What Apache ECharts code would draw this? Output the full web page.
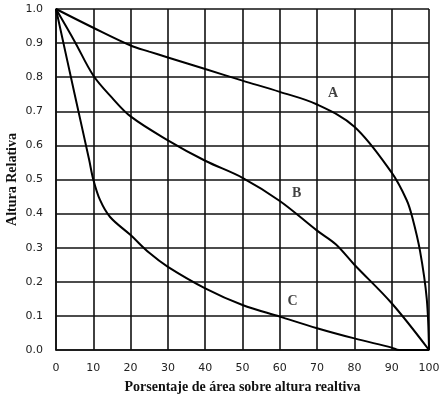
<!DOCTYPE html>
<html>
<head>
<meta charset="utf-8">
<script src="https://cdn.jsdelivr.net/npm/echarts@6/dist/echarts.min.js"></script>
<style>
html, body { margin: 0; padding: 0; background: #fff; }
#chart { width: 439px; height: 398px; }
</style>
</head>
<body>
<div id="chart"></div>
<script>
// curves: [porcentaje de área, altura relativa]
var curveA = [[0, 1.0], [10, 0.945], [20, 0.893], [25, 0.875], [30, 0.858], [40, 0.824], [50, 0.79],
  [60, 0.757], [70, 0.72], [80, 0.655], [90, 0.52], [94, 0.44], [95.5, 0.39], [97.6, 0.29], [99.4, 0.15], [100, 0.0]];
var curveB = [[0, 1.0], [5, 0.905], [10, 0.805], [15, 0.74], [20, 0.685], [30, 0.615], [40, 0.555], [50, 0.505],
  [60, 0.437], [70, 0.35], [75, 0.31], [80, 0.25], [90, 0.137], [100, 0.0]];
var curveC = [[0, 1.0], [5, 0.75], [8.9, 0.557], [10, 0.5], [11.8, 0.44], [14.5, 0.39], [20, 0.337],
  [25, 0.285], [30, 0.244], [40, 0.181], [50, 0.132], [60, 0.098], [70, 0.064], [80, 0.034], [90, 0.007], [92, 0.0], [100, 0.0]];
var curveNames = ['A', 'B', 'C'];
var curveLabelPos = [[74.3, 0.753], [64.5, 0.46], [63.4, 0.142]];

var xTitle = 'Porsentaje de área sobre altura realtiva';
var yTitle = 'Altura Relativa';

var chart = echarts.init(document.getElementById('chart'));

function lineSeries(name, data) {
  return {
    name: name,
    type: 'line',
    data: data,
    smooth: 0.35,
    showSymbol: false,
    lineStyle: { color: '#000', width: 2 },
    z: 3
  };
}

var option = {
  animation: false,
  grid: { left: 56, right: 10, top: 9, bottom: 48, containLabel: false, outerBoundsMode: 'none' },
  xAxis: {
    type: 'value',
    min: 0,
    max: 100,
    interval: 10,
    name: xTitle,
    nameLocation: 'middle',
    nameGap: 30,
    nameMoveOverlap: false,
    nameTextStyle: { fontFamily: 'Liberation Serif', fontWeight: 'bold', fontSize: 14, color: '#111' },
    axisLine: { lineStyle: { color: '#111', width: 1.6 } },
    axisTick: { show: false },
    axisLabel: { fontFamily: 'DejaVu Sans', fontSize: 11, color: '#222', margin: 13 },
    splitLine: { show: true, lineStyle: { color: '#111', width: 1.6 } }
  },
  yAxis: {
    type: 'value',
    min: 0,
    max: 1,
    interval: 0.1,
    name: yTitle,
    nameLocation: 'middle',
    nameGap: 37,
    nameRotate: 90,
    nameMoveOverlap: false,
    nameTextStyle: { fontFamily: 'Liberation Serif', fontWeight: 'bold', fontSize: 14, color: '#111' },
    axisLine: { lineStyle: { color: '#111', width: 1.6 } },
    axisTick: { show: false },
    axisLabel: {
      fontFamily: 'DejaVu Sans', fontSize: 11, color: '#222', margin: 13,
      formatter: function (v) { return v.toFixed(1); }
    },
    splitLine: { show: true, lineStyle: { color: '#111', width: 1.6 } }
  },
  series: [
    lineSeries('A', curveA),
    lineSeries('B', curveB),
    lineSeries('C', curveC),
    {
      type: 'scatter',
      symbolSize: 0,
      data: curveLabelPos.map(function (p, i) {
        return { value: p, name: curveNames[i] };
      }),
      label: {
        show: true,
        position: 'inside',
        formatter: '{b}',
        fontFamily: 'Liberation Serif',
        fontWeight: 'bold',
        fontSize: 14,
        color: '#111'
      },
      z: 4
    }
  ]
};

chart.setOption(option);
</script>
</body>
</html>
